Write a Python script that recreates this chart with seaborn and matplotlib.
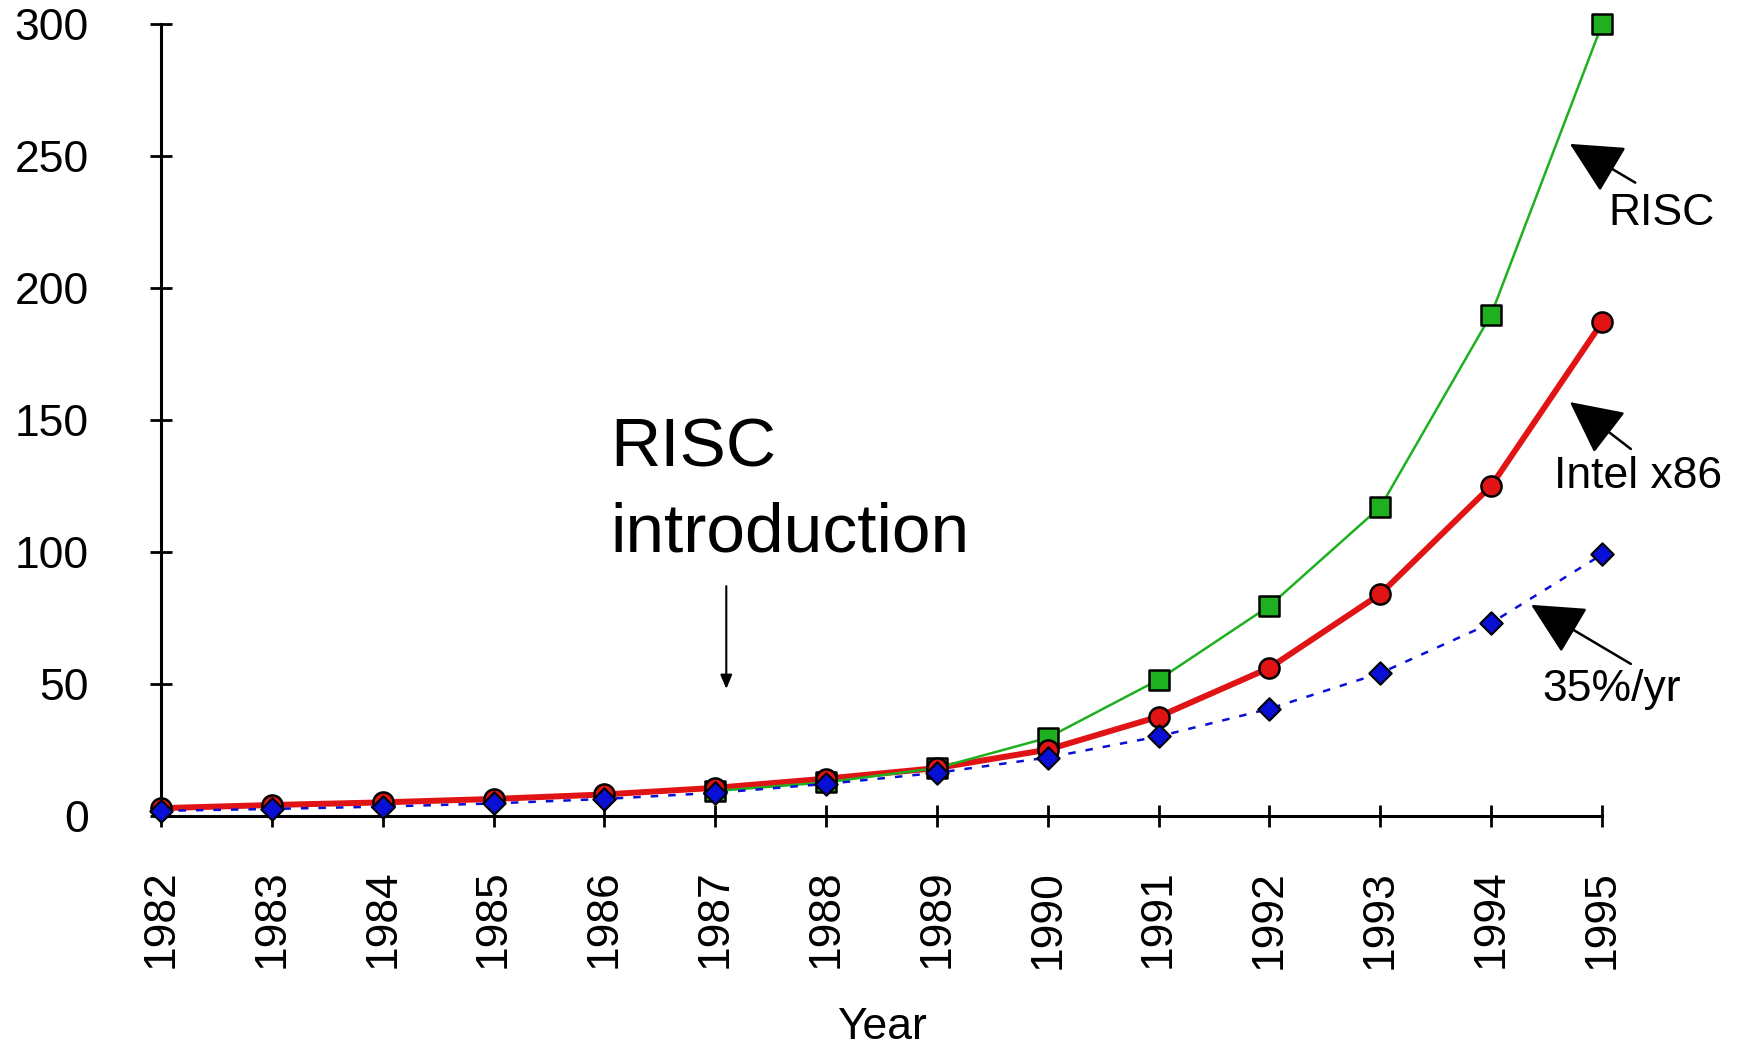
import numpy as np
import matplotlib.pyplot as plt
import seaborn as sns

# Values (performance relative to 1982)
years = list(range(1982, 1996))
risc_years = list(range(1987, 1996))
risc_perf = [9.3, 12.6, 18, 29.5, 51.5, 79.5, 117, 190, 300]
intel_perf = [2.8, 4, 5, 6.3, 8, 10.5, 14, 18, 25, 37.5, 56, 84, 125, 187]
trend_perf = [1.8, 2.5, 3.4, 4.6, 6.3, 8.6, 12, 16.2, 22, 30, 40.5, 54, 73, 99]

y_ticks = [0, 50, 100, 150, 200, 250, 300]

green = "#1eb01e"
red = "#e01414"
blue = "#0a0fd6"

sns.set_theme(style="white")
plt.rcParams["font.family"] = ["Liberation Sans", "DejaVu Sans"]
plt.rcParams["text.color"] = "black"
plt.rcParams["axes.labelcolor"] = "black"

fig = plt.figure(figsize=(17.4, 10.48), dpi=100, facecolor="white")
ax = fig.add_axes([0.0925, 0.2218, 0.8282, 0.7549])

# Lines first, markers on top
sns.lineplot(x=years, y=intel_perf, ax=ax, color=red, linewidth=4.3,
             zorder=2, clip_on=False)
sns.lineplot(x=risc_years, y=risc_perf, ax=ax, color=green, linewidth=1.8,
             zorder=2.1, clip_on=False)
sns.lineplot(x=years, y=trend_perf, ax=ax, color=blue, linewidth=1.8,
             linestyle=(0, (3, 4)), zorder=2.2, clip_on=False)

sns.scatterplot(x=risc_years, y=risc_perf, ax=ax, marker="s", s=200,
                color=green, edgecolor="black", linewidth=1.8,
                zorder=3, clip_on=False)
sns.scatterplot(x=years, y=intel_perf, ax=ax, marker="o", s=210,
                color=red, edgecolor="black", linewidth=1.8,
                zorder=3.1, clip_on=False)
sns.scatterplot(x=years, y=trend_perf, ax=ax, marker="D", s=130,
                color=blue, edgecolor="black", linewidth=1.5,
                zorder=3.2, clip_on=False)

ax.set_xlim(1982, 1995)
ax.set_ylim(0, 300)
ax.set_xticks(years)
ax.set_xticklabels([str(y) for y in years], rotation=90)
ax.set_yticks(y_ticks)
ax.tick_params(axis="x", bottom=True, direction="inout", length=16, width=2,
               pad=31, labelsize=32, colors="black")
ax.tick_params(axis="y", left=True, direction="inout", length=16, width=2,
               pad=44, labelsize=32, colors="black")

for side in ["top", "right"]:
    ax.spines[side].set_visible(False)
for side in ["left", "bottom"]:
    ax.spines[side].set_color("black")
    ax.spines[side].set_linewidth(2.2)

ax.set_xlabel("Year", fontsize=32, labelpad=28, color="black")
ax.set_ylabel("")
ax.grid(False)

# Annotations
ax.text(1986.05, 100, "RISC\nintroduction", fontsize=50, va="baseline",
        ha="left", linespacing=1.42, color="black")
ax.annotate("", xy=(1987.1, 48), xytext=(1987.1, 87),
            arrowprops=dict(arrowstyle="-|>,head_length=0.6,head_width=0.25",
                            color="black", lw=1.5, mutation_scale=14,
                            shrinkA=0, shrinkB=0))

big_head = "-|>,head_length=1.5,head_width=0.75"
arrow_specs = [
    ((1994.71, 254.7), (1995.30, 240)),
    ((1994.71, 156.8), (1995.26, 139)),
    ((1994.36, 79.9), (1995.26, 57.5)),
]
for tip, tail in arrow_specs:
    ax.annotate("", xy=tip, xytext=tail, annotation_clip=False,
                arrowprops=dict(arrowstyle=big_head, color="black", lw=1.8,
                                mutation_scale=22, shrinkA=0, shrinkB=0))

ax.text(1995.06, 224, "RISC", fontsize=32, va="baseline", ha="left", color="black")
ax.text(1994.57, 124.3, "Intel x86", fontsize=32, va="baseline", ha="left", color="black")
ax.text(1994.46, 43.5, "35%/yr", fontsize=32, va="baseline", ha="left", color="black")

fig.savefig("out.png", dpi=100, facecolor="white")
